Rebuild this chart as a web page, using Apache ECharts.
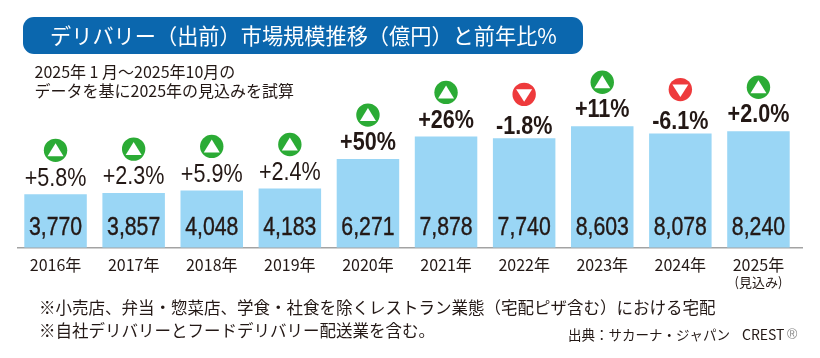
<!DOCTYPE html>
<html><head><meta charset="utf-8">
<style>html,body{margin:0;padding:0;background:#fff}#c{width:820px;height:358px}</style>
<script src="https://cdn.jsdelivr.net/npm/echarts@6/dist/echarts.min.js"></script>
</head><body><div id="c"></div>
<script>
const categories = ['2016年','2017年','2018年','2019年','2020年','2021年','2022年','2023年','2024年','2025年\n(見込み)'];
const marketSize = [3770,3857,4048,4183,6271,7878,7740,8603,8078,8240];
const changeLabels = ['+5.8%','+2.3%','+5.9%','+2.4%','+50%','+26%','-1.8%','+11%','-6.1%','+2.0%'];
const titleText = 'デリバリー（出前）市場規模推移（億円）と前年比%';
const noteLines = ['2025年 1 月～2025年10月の','データを基に2025年の見込みを試算'];
const footLines = ['※小売店、弁当・惣菜店、学食・社食を除くレストラン業態（宅配ピザ含む）における宅配','※自社デリバリーとフードデリバリー配送業を含む。'];
const sourceText = '出典：サカーナ・ジャパン';
const brandText = 'CREST';

const JP = '"Noto Sans CJK JP"';
const LATIN = '"Liberation Sans"';
const INK = '#231815';
const fmt = v => String(v).replace(/\B(?=(\d{3})+$)/g, ',');

function renderBadge(params, api) {
  const i = api.value(0);
  const p = api.coord([i, api.value(1)]);
  const base = api.coord([i, 0]);
  const label = changeLabels[i];
  const up = label[0] === '+';
  const strong = i >= 4;
  const cx = p[0], iy = p[1] - 44, ty = p[1] - (up ? 16 : 12);
  const tri = up
    ? [[cx - 8, iy + 6], [cx + 8, iy + 6], [cx, iy - 7]]
    : [[cx - 8, iy - 5], [cx + 8, iy - 5], [cx, iy + 7.5]];
  return {
    type: 'group',
    children: [
      { type: 'circle', shape: { cx: cx, cy: iy, r: 11.7 }, style: { fill: up ? '#2bab35' : '#ee3a3c' } },
      { type: 'polygon', shape: { points: tri }, style: { fill: '#fff' } },
      { type: 'text', x: cx, y: ty, scaleX: 0.83, style: {
          text: label, x: 0, y: 0, align: 'center', verticalAlign: 'middle',
          font: (strong ? 'bold ' : '') + '26px ' + LATIN, fill: INK
      } },
      { type: 'text', x: cx, y: base[1] - 19, scaleX: 0.85, style: {
          text: fmt(api.value(1)), x: 0, y: 0, align: 'center', verticalAlign: 'middle',
          font: '25px ' + LATIN, fill: INK, stroke: INK, lineWidth: 0.4
      } }
    ]
  };
}

const chart = echarts.init(document.getElementById('c'), null, { renderer: 'canvas' });
chart.setOption({
  animation: false,
  backgroundColor: '#fff',
  title: {
    text: titleText, left: 50, top: 21, padding: 0,
    textStyle: { color: '#fff', fontFamily: JP, fontSize: 21.2, fontWeight: 'normal', lineHeight: 30 }
  },
  grid: { left: 16.5, width: 781, top: 106.5, height: 141 },
  xAxis: {
    type: 'category', data: categories,
    axisLine: { show: false }, axisTick: { show: false },
    axisLabel: {
      interval: 0, margin: 7, color: INK, fontFamily: JP, fontSize: 16,
      formatter: v => {
        const parts = v.split('\n');
        return parts.length > 1 ? '{y|' + parts[0] + '}\n{n|' + parts[1] + '}' : '{y|' + parts[0] + '}';
      },
      rich: {
        y: { fontFamily: JP, fontSize: 16, lineHeight: 20, color: INK },
        n: { fontFamily: JP, fontSize: 13, lineHeight: 15, color: INK }
      }
    }
  },
  yAxis: { type: 'value', min: 0, max: 10000, show: false, splitLine: { show: false } },
  graphic: [
    { type: 'rect', z: -1, shape: { x: 23, y: 17, width: 560, height: 37, r: 11 }, style: { fill: '#0b67ae' } },
    { type: 'line', shape: { x1: 17, y1: 247.7, x2: 803, y2: 247.7 }, style: { stroke: '#a3a3a3', lineWidth: 1.5 } },
    { type: 'text', style: { text: noteLines[0], x: 34.5, y: 72, verticalAlign: 'middle', font: '16px ' + JP, fill: INK } },
    { type: 'text', style: { text: noteLines[1], x: 34.5, y: 91, verticalAlign: 'middle', font: '16px ' + JP, fill: INK } },
    { type: 'text', style: { text: footLines[0], x: 39, y: 308, verticalAlign: 'middle', font: '16.5px ' + JP, fill: INK } },
    { type: 'text', style: { text: footLines[1], x: 39, y: 331, verticalAlign: 'middle', font: '16.5px ' + JP, fill: INK } },
    { type: 'text', style: { text: sourceText, x: 568, y: 334.5, verticalAlign: 'middle', font: '13.5px ' + JP, fill: INK } },
    { type: 'text', style: { text: brandText, x: 742, y: 334.5, verticalAlign: 'middle', font: '14px ' + JP, fill: INK } },
    { type: 'text', style: { text: '®', x: 787, y: 335, verticalAlign: 'middle', font: '14px ' + LATIN, fill: '#888' } }
  ],
  series: [
    {
      type: 'bar', data: marketSize, barWidth: 62.5,
      itemStyle: { color: '#9ad6f5' },
      silent: true
    },
    {
      type: 'custom', clip: false, z: 5,
      encode: { x: 0, y: 1 },
      data: marketSize.map((v, i) => [i, v]),
      renderItem: renderBadge,
      silent: true
    }
  ]
});
</script></body></html>
